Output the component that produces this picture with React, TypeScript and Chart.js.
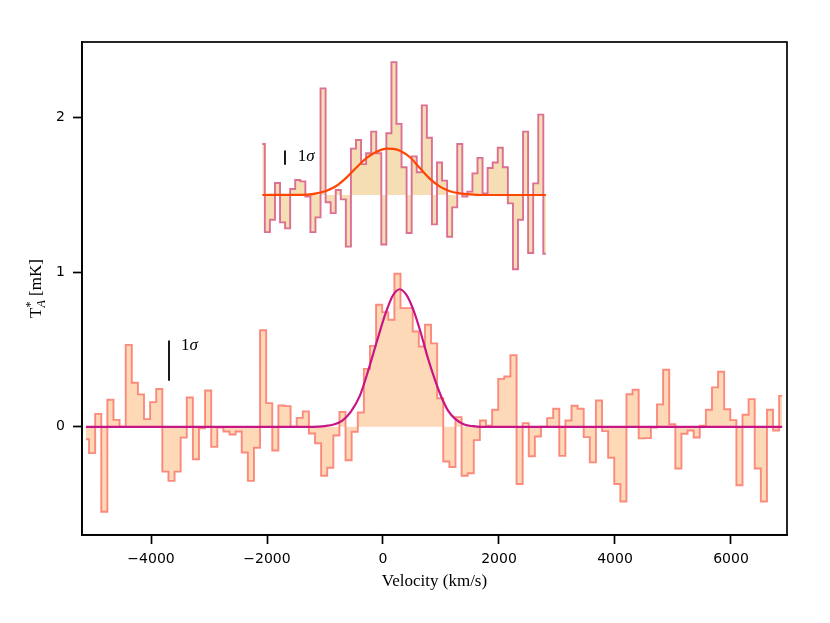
import React, { useEffect, useRef } from "react";
import { Chart, registerables } from "chart.js";

Chart.register(...registerables);

// ---- axis ticks ----
const xTickValues = [-4000, -2000, 0, 2000, 4000, 6000];
const yTickValues = [0, 1, 2];

// ---- lower spectrum (channel grid + values, mK) ----
const lowerStartVelocity = -5121;
const lowerChannelWidth = 105.3;
const lowerValues = [
  -0.08, -0.17, 0.084, -0.55, 0.175, 0.045, 0.0, 0.53, 0.285, 0.21,
  0.05, 0.16, 0.245, -0.29, -0.35, -0.29, -0.07, 0.19, -0.21, -0.01,
  0.235, -0.13, -0.005, -0.03, -0.05, -0.03, -0.166, -0.35, -0.135, 0.625,
  0.153, -0.153, 0.138, 0.134, 0.0, 0.058, 0.1, -0.043, -0.106, -0.317,
  -0.265, -0.056, 0.097, -0.216, -0.032, 0.093, 0.375, 0.524, 0.79, 0.742,
  0.693, 0.99, 0.768, 0.768, 0.617, 0.52, 0.66, 0.54, 0.185, -0.224,
  -0.26, 0.063, -0.317, -0.3, -0.086, 0.041, 0.008, 0.11, 0.31, 0.326,
  0.464, -0.37, 0.024, -0.19, -0.063, 0.0, 0.056, 0.117, -0.188, 0.041,
  0.136, 0.117, -0.067, -0.23, 0.17, -0.028, -0.2, -0.37, -0.483, 0.211,
  0.24, -0.075, -0.073, -0.004, 0.145, 0.369, 0.017, -0.27, -0.045, -0.024,
  -0.069, 0.007, 0.11, 0.255, 0.356, 0.114, 0.043, -0.378, 0.078, 0.179,
  -0.27, -0.483, 0.11, -0.024, 0.2,
];

// ---- lower Gaussian fit ----
const lowerFitVelocity = [
  -5121, -1200, -1000, -850, -700, -550, -400, -250, -100, 50, 170, 290,
  410, 530, 650, 770, 890, 1010, 1130, 1250, 1400, 1550, 1700, 6883,
];
const lowerFitValues = [
  0, 0, 0.005, 0.015, 0.04, 0.1, 0.2, 0.37, 0.56, 0.74, 0.85, 0.89,
  0.85, 0.75, 0.61, 0.45, 0.31, 0.19, 0.1, 0.05, 0.015, 0.004, 0, 0,
];

// ---- upper spectrum (offset by 1.5) ----
const upperOffset = 1.5;
const upperStartVelocity = -2081;
const upperChannelWidth = 87.3;
const upperValues = [
  0.33, -0.24, -0.16, 0.078, -0.177, -0.216, 0.039, 0.097, 0.088, -0.01,
  -0.24, -0.145, 0.69, -0.047, -0.117, 0.032, -0.028, -0.334, 0.3, 0.356,
  0.2, 0.27, 0.41, 0.27, -0.32, 0.4, 0.86, 0.46, 0.18, -0.246,
  0.25, 0.147, 0.58, 0.37, -0.19, 0.21, 0.093, -0.27, -0.08, 0.33,
  -0.01, 0.022, 0.14, 0.24, 0.01, 0.175, 0.21, 0.306, 0.18, -0.054,
  -0.48, -0.16, 0.41, -0.375, 0.075, 0.52, -0.38,
];

// ---- upper Gaussian fit (relative to offset) ----
const upperFitVelocity = [
  -2081, -1300, -1144, -971, -799, -626, -454, -282, -109, 63, 178, 293,
  466, 638, 810, 983, 1155, 1328, 1500, 1700, 2808,
];
const upperFitValues = [
  0, 0.003, 0.011, 0.028, 0.06, 0.114, 0.179, 0.24, 0.28, 0.3, 0.298, 0.287,
  0.244, 0.173, 0.104, 0.054, 0.024, 0.011, 0.004, 0, 0,
];

// ---- 1 sigma markers ----
const lowerSigmaVelocity = -3690;
const lowerSigmaRange = [0.298, 0.558];
const upperSigmaVelocity = -1690;
const upperSigmaRange = [1.696, 1.788];
const sigmaLabelText = ["1", "σ"];
const lowerSigmaLabelAt = { v: -3483, t: 0.526 };
const upperSigmaLabelAt = { v: -1471, t: 1.752 };

const xAxisTitle = "Velocity (km/s)";
const yAxisTitleParts = { main: "T", sup: "*", sub: "A", rest: " [mK]" };

const SERIF = '"Liberation Serif", "Times New Roman", serif';
const SANS = '"DejaVu Sans", sans-serif';

function fmtTick(v: number): string {
  return v < 0 ? "\u2212" + String(Math.abs(v)) : String(v);
}

const textPlugin = {
  id: "frameAndText",
  afterDraw(chart: any) {
    const { ctx, chartArea: a, scales } = chart;
    ctx.save();
    ctx.strokeStyle = "#000";
    ctx.lineWidth = 1.7;
    ctx.strokeRect(a.left, a.top, a.right - a.left, a.bottom - a.top);

    ctx.fillStyle = "#000";
    const drawSigma = (pos: { v: number; t: number }) => {
      const x = scales.x.getPixelForValue(pos.v);
      const y = scales.y.getPixelForValue(pos.t);
      ctx.textBaseline = "middle";
      ctx.textAlign = "left";
      ctx.font = `17px ${SERIF}`;
      ctx.fillText(sigmaLabelText[0], x, y);
      const w = ctx.measureText(sigmaLabelText[0]).width;
      ctx.font = `italic 17px ${SERIF}`;
      ctx.fillText(sigmaLabelText[1], x + w, y);
    };
    drawSigma(lowerSigmaLabelAt);
    drawSigma(upperSigmaLabelAt);

    // x title
    ctx.font = `17px ${SERIF}`;
    ctx.textAlign = "center";
    ctx.textBaseline = "alphabetic";
    ctx.fillText(xAxisTitle, (a.left + a.right) / 2, 586);

    // y title (rotated)
    ctx.translate(41, (a.top + a.bottom) / 2);
    ctx.rotate(-Math.PI / 2);
    ctx.textAlign = "left";
    ctx.textBaseline = "alphabetic";
    ctx.font = `17px ${SERIF}`;
    const wMain = ctx.measureText(yAxisTitleParts.main).width;
    const wRest = ctx.measureText(yAxisTitleParts.rest).width;
    ctx.font = `12px ${SERIF}`;
    const wSup = ctx.measureText(yAxisTitleParts.sup).width;
    ctx.font = `italic 12px ${SERIF}`;
    const wSub = ctx.measureText(yAxisTitleParts.sub).width;
    const wMid = Math.max(wSup, wSub);
    const total = wMain + wMid + wRest;
    let x0 = -total / 2;
    ctx.font = `17px ${SERIF}`;
    ctx.fillText(yAxisTitleParts.main, x0, 0);
    x0 += wMain;
    ctx.font = `12px ${SERIF}`;
    ctx.fillText(yAxisTitleParts.sup, x0, -7);
    ctx.font = `italic 12px ${SERIF}`;
    ctx.fillText(yAxisTitleParts.sub, x0, 4);
    x0 += wMid;
    ctx.font = `17px ${SERIF}`;
    ctx.fillText(yAxisTitleParts.rest, x0, 0);
    ctx.restore();
  },
};

export default function App() {
  const canvasRef = useRef<HTMLCanvasElement | null>(null);

  useEffect(() => {
    document.body.style.margin = "0";
    const canvas = canvasRef.current;
    if (!canvas) return;

    const lowerData = lowerValues.map((t, i) => ({
      x: lowerStartVelocity + i * lowerChannelWidth,
      y: t,
    }));
    const upperData = upperValues.map((t, i) => ({
      x: upperStartVelocity + i * upperChannelWidth,
      y: t + upperOffset,
    }));
    const lowerFit = lowerFitVelocity.map((v, i) => ({ x: v, y: lowerFitValues[i] }));
    const upperFit = upperFitVelocity.map((v, i) => ({ x: v, y: upperFitValues[i] + upperOffset }));
    const lowerSigma = lowerSigmaRange.map((t) => ({ x: lowerSigmaVelocity, y: t }));
    const upperSigma = upperSigmaRange.map((t) => ({ x: upperSigmaVelocity, y: t }));

    const tickStyle = {
      display: true,
      drawOnChartArea: false,
      drawTicks: true,
      tickLength: 9,
      tickWidth: 1.7,
      tickColor: "#000",
    };

    const chart = new Chart(canvas, {
      type: "line",
      data: {
        datasets: [
          {
            data: lowerFit,
            borderColor: "#c71585",
            borderWidth: 2.2,
            pointRadius: 0,
            fill: false,
            cubicInterpolationMode: "monotone",
            order: 0,
          },
          {
            data: upperFit,
            borderColor: "#ff4500",
            borderWidth: 2.2,
            pointRadius: 0,
            fill: false,
            cubicInterpolationMode: "monotone",
            order: 0,
          },
          {
            data: lowerSigma,
            borderColor: "#000",
            borderWidth: 1.8,
            pointRadius: 0,
            fill: false,
            order: 0,
          },
          {
            data: upperSigma,
            borderColor: "#000",
            borderWidth: 1.8,
            pointRadius: 0,
            fill: false,
            order: 0,
          },
          {
            data: lowerData,
            stepped: "middle",
            borderColor: "rgba(250,128,114,0.9)",
            backgroundColor: "#fed9b8",
            borderWidth: 1.9,
            pointRadius: 0,
            fill: { value: 0 },
            order: 1,
          },
          {
            data: upperData,
            stepped: "middle",
            borderColor: "#db7093",
            backgroundColor: "#f5deb3",
            borderWidth: 1.9,
            pointRadius: 0,
            fill: { value: upperOffset },
            order: 1,
          },
        ],
      } as any,
      options: {
        animation: false,
        responsive: false,
        devicePixelRatio: 1,
        events: [],
        layout: { padding: { top: 42, right: 43, left: 0, bottom: 0 } },
        plugins: {
          legend: { display: false },
          tooltip: { enabled: false },
        },
        scales: {
          x: {
            type: "linear",
            min: -5190,
            max: 6966,
            afterBuildTicks: (s: any) => {
              s.ticks = xTickValues.map((v) => ({ value: v }));
            },
            afterFit: (s: any) => {
              s.height = 88;
            },
            ticks: {
              callback: (v: any) => fmtTick(Number(v)),
              font: { family: SANS, size: 14 },
              color: "#000",
              padding: 7,
              maxRotation: 0,
              autoSkip: false,
            },
            grid: tickStyle,
            border: { display: true, color: "#000", width: 1.7 },
          },
          y: {
            type: "linear",
            min: -0.7,
            max: 2.49,
            afterBuildTicks: (s: any) => {
              s.ticks = yTickValues.map((v) => ({ value: v }));
            },
            afterFit: (s: any) => {
              s.width = 82;
            },
            ticks: {
              callback: (v: any) => fmtTick(Number(v)),
              font: { family: SANS, size: 14 },
              color: "#000",
              padding: 8,
              autoSkip: false,
            },
            grid: tickStyle,
            border: { display: true, color: "#000", width: 1.7 },
          },
        },
      } as any,
      plugins: [textPlugin],
    });

    return () => {
      chart.destroy();
    };
  }, []);

  return (
    <div style={{ width: 830, height: 623, background: "#fff" }}>
      <canvas ref={canvasRef} width={830} height={623} style={{ width: 830, height: 623, display: "block" }} />
    </div>
  );
}
